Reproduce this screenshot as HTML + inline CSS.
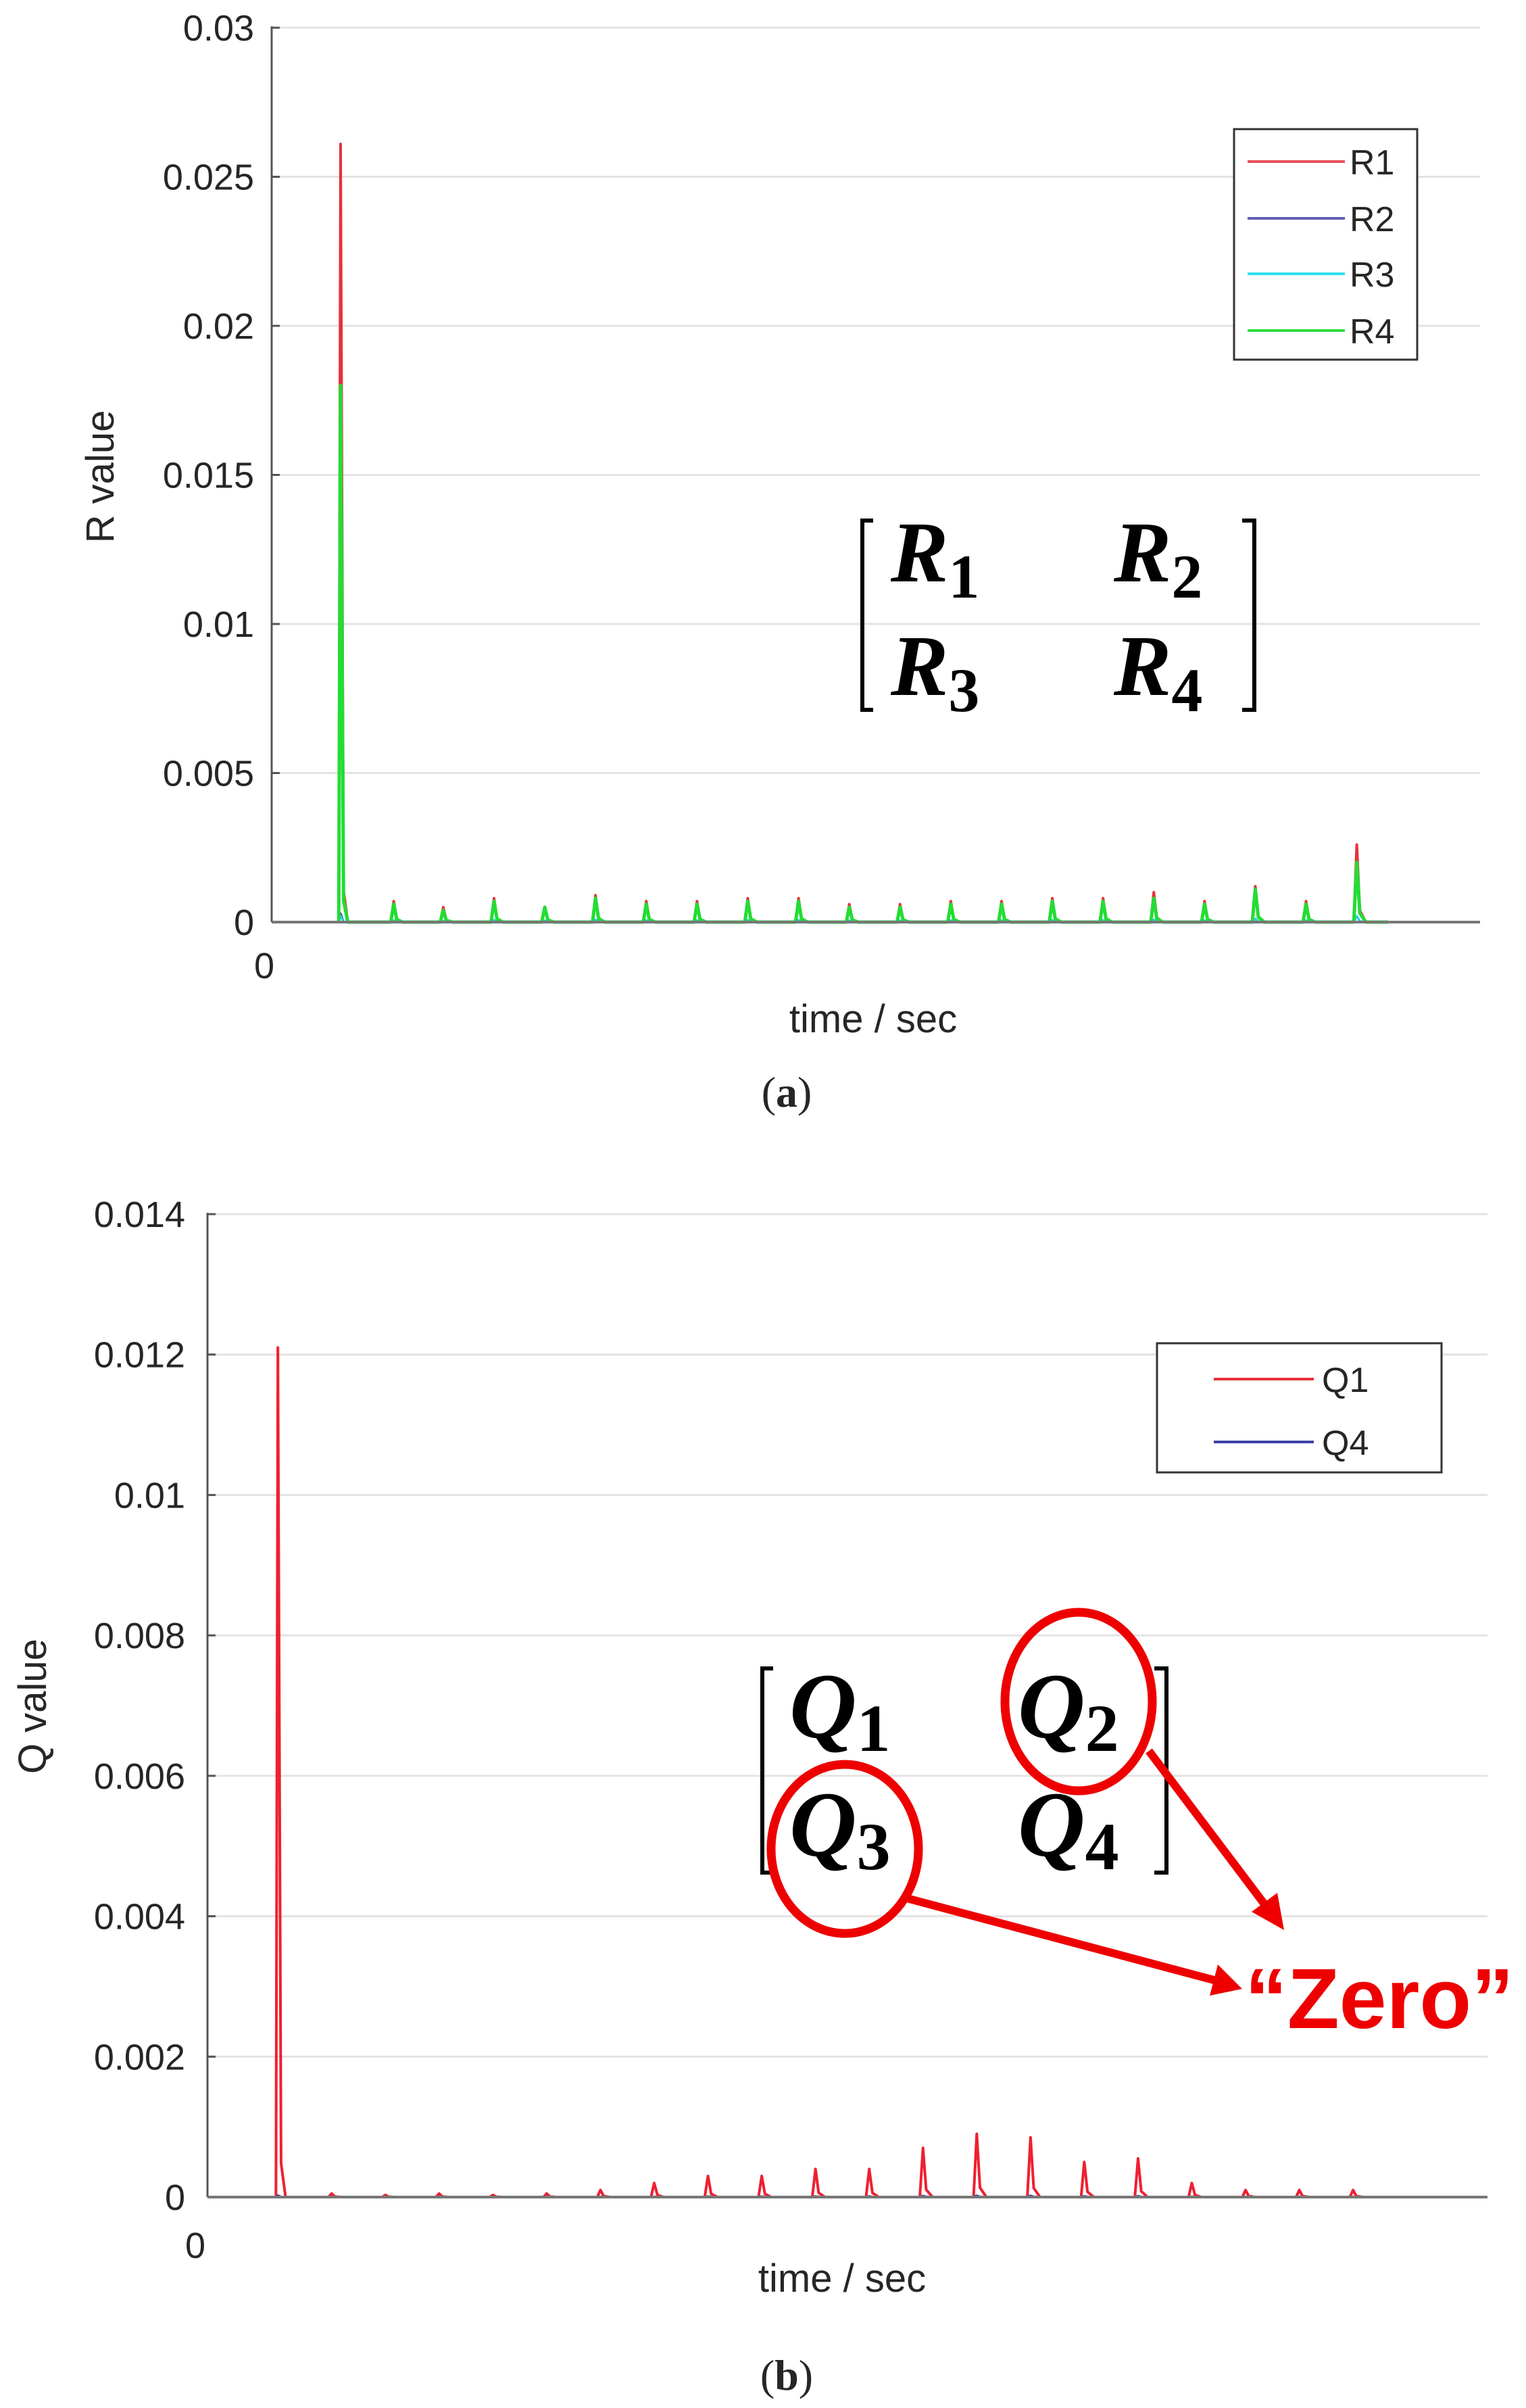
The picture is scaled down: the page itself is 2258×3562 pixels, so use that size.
<!DOCTYPE html>
<html><head><meta charset="utf-8"><style>
html,body{margin:0;padding:0;background:#fff}
svg{display:block}
text{font-family:"Liberation Sans",sans-serif;fill:#262626}
.tick{font-size:54px;text-anchor:end}
.math{font-family:"Liberation Serif",serif;font-weight:bold;fill:#000}
</style></head><body>
<svg id="fig" width="2258" height="3562" viewBox="0 0 2258 3562" xmlns="http://www.w3.org/2000/svg">
<g id="pa"></g>
<g id="pb"></g>
</svg>
<script>
// ---- Panel (a) data ----
const aYTicks = [0, 0.005, 0.01, 0.015, 0.02, 0.025, 0.03];
const aYTickLabels = ["0","0.005","0.01","0.015","0.02","0.025","0.03"];
const aPeakTime = 5.7;
const aEndTime = 92.4;
const aR1Peak = 0.0261;
const aR4Peak = 0.018;
const aR2Peak = 0.0003;
const aR3Peak = 0.0002;
const aSpikeTimes = [10.1,14.2,18.4,22.6,26.8,31.0,35.2,39.4,43.6,47.8,52.0,56.2,60.4,64.6,68.8,73.0,77.2,81.4,85.6,89.8];
const aR1Spikes = [0.0007,0.0005,0.0008,0.0005,0.0009,0.0007,0.0007,0.0008,0.0008,0.0006,0.0006,0.0007,0.0007,0.0008,0.0008,0.001,0.0007,0.0012,0.0007,0.0026];
const aR4Spikes = [0.0006,0.0004,0.0007,0.0005,0.0008,0.0006,0.0006,0.0007,0.0007,0.0005,0.0005,0.0006,0.0006,0.0007,0.0007,0.0008,0.0006,0.0011,0.0006,0.002];
// ---- Panel (b) data ----
const bYTicks = [0,0.002,0.004,0.006,0.008,0.01,0.012,0.014];
const bYTickLabels = ["0","0.002","0.004","0.006","0.008","0.01","0.012","0.014"];
const bPeakTime = 5.5;
const bEndTime = 92.2;
const bQ1Peak = 0.0121;
const bQ4Peak = 0.00002;
const bSpikeTimes = [9.7,13.9,18.1,22.3,26.5,30.7,34.9,39.1,43.3,47.5,51.7,55.9,60.1,64.3,68.5,72.7,76.9,81.1,85.3,89.5];
const bQ1Spikes = [0.00005,0.00003,0.00005,0.00003,0.00005,0.0001,0.0002,0.0003,0.0003,0.0004,0.0004,0.0007,0.0009,0.00085,0.0005,0.00055,0.0002,0.0001,0.0001,0.0001];

const NS="http://www.w3.org/2000/svg";
function mk(parent, tag, attrs, txt){const e=document.createElementNS(NS,tag);for(const k in attrs)e.setAttribute(k,attrs[k]);if(txt!==undefined)e.textContent=txt;parent.appendChild(e);return e;}

function seriesPath(xs, ys, peakT, peakV, spT, spV, endT, w){
  let d = "M"+xs(peakT-0.15)+","+ys(0);
  d += " L"+xs(peakT)+","+ys(peakV)+" L"+xs(peakT+0.25)+","+ys(peakV*0.04)+" L"+xs(peakT+0.6)+","+ys(0);
  for(let i=0;i<spT.length;i++){
    d += " L"+xs(spT[i]-w)+","+ys(0)+" L"+xs(spT[i])+","+ys(spV[i])+" L"+xs(spT[i]+w)+","+ys(spV[i]*0.15)+" L"+xs(spT[i]+w*3)+","+ys(0);
  }
  d += " L"+xs(endT)+","+ys(0);
  return d;
}

function panel(g, cfg){
  const xs = t => cfg.x0 + t*(cfg.x1-cfg.x0)/100;
  const ys = v => cfg.y0 - v*(cfg.y0-cfg.yTop)/cfg.yMax;
  cfg.ticks.forEach((v,i)=>{
    const gl = mk(g,'line',{x1:cfg.x0,x2:cfg.x1,y1:ys(v),y2:ys(v),stroke:'#e3e3e3','stroke-width':3});
    
    
    const tk = mk(g,'line',{x1:cfg.x0,x2:cfg.x0+12,y1:ys(v),y2:ys(v),stroke:'#555','stroke-width':3});
    
    
    const tl = mk(g,'text',{x:cfg.tx,y:ys(v)+19,class:'tick'},cfg.labels[i]);
    
    
  });
  const ya = mk(g,'line',{x1:cfg.x0,x2:cfg.x0,y1:cfg.yTop-2,y2:cfg.y0,stroke:'#555','stroke-width':3});
  
  
  cfg.series.forEach(s=>{
    const p = mk(g,'path',{d:seriesPath(xs,ys,s.pt,s.pv,s.st,s.sv,s.et,0.25),fill:'none',stroke:s.c,'stroke-width':s.w,'stroke-linejoin':'round'});
    
    
  });
  const xa = mk(g,'line',{x1:cfg.x0,x2:cfg.x1,y1:cfg.y0,y2:cfg.y0,stroke:'#777','stroke-width':4});
  
  
  const z = mk(g,'text',{x:cfg.zx,y:cfg.zy,'font-size':54,'text-anchor':'middle'},'0');
  
  
  const xt = mk(g,'text',{x:cfg.xtx,y:cfg.xty,'font-size':58,'text-anchor':'middle'},'time / sec');
  
  
  const yt = mk(g,'text',{x:0,y:0,'font-size':58,'text-anchor':'middle',transform:`translate(${cfg.ytx},${cfg.yty}) rotate(-90)`},cfg.ytitle);
  
  
  const L = cfg.legend;
  const lb = mk(g,'rect',{x:L.x,y:L.y,width:L.w,height:L.h,fill:'#fff',stroke:'#333','stroke-width':3});
  
  
  L.items.forEach((it,i)=>{
    const yy = L.ey[i];
    const ll = mk(g,'line',{x1:L.lx1,x2:L.lx2,y1:yy,y2:yy,stroke:it.c,'stroke-width':4});
    
    
    const lt = mk(g,'text',{x:L.tx,y:yy+19,'font-size':52},it.t);
    
    
  });
  const cap = mk(g,'text',{x:1164,y:cfg.capy,'font-size':64,'text-anchor':'middle',style:'font-family:"Liberation Serif",serif'});
  
  
  cap.innerHTML = '(<tspan font-weight="bold">'+cfg.cap+'</tspan>)';
}

panel(document.getElementById('pa'),{
  x0:402,x1:2190,y0:1364,yTop:41,yMax:0.03,ticks:aYTicks,labels:aYTickLabels,tx:376,
  zx:391,zy:1447,xtx:1292,xty:1527,ytx:168,yty:705,ytitle:'R value',capy:1637,cap:'a',
  series:[
    {name:'series-r1',c:'#e8303a',w:4,pt:aPeakTime,pv:aR1Peak,st:aSpikeTimes,sv:aR1Spikes,et:aEndTime},
    {name:'series-r2',c:'#5050b0',w:3,pt:aPeakTime,pv:aR2Peak,st:aSpikeTimes,sv:aR4Spikes.map(v=>v*0.1),et:aEndTime},
    {name:'series-r3',c:'#20d0e0',w:3,pt:aPeakTime,pv:aR3Peak,st:aSpikeTimes,sv:aR4Spikes.map(v=>v*0.1),et:aEndTime},
    {name:'series-r4',c:'#22dd33',w:5,pt:aPeakTime,pv:aR4Peak,st:aSpikeTimes,sv:aR4Spikes,et:aEndTime}
  ],
  legend:{x:1826,y:191,w:271,h:341,lx1:1846,lx2:1990,tx:1997,ey:[239,323,405,489],
    items:[{t:'R1',c:'#e8505a'},{t:'R2',c:'#6060b8'},{t:'R3',c:'#30e0f0'},{t:'R4',c:'#30dd40'}]}
});

panel(document.getElementById('pb'),{
  x0:307,x1:2201,y0:3250,yTop:1796,yMax:0.014,ticks:bYTicks,labels:bYTickLabels,tx:274,
  zx:289,zy:3340,xtx:1246,xty:3390,ytx:68,yty:2524,ytitle:'Q value',capy:3535,cap:'b',
  series:[
    {name:'series-q1',c:'#ee2030',w:4,pt:bPeakTime,pv:bQ1Peak,st:bSpikeTimes,sv:bQ1Spikes,et:bEndTime},
    {name:'series-q4',c:'#4040a8',w:4,pt:bPeakTime,pv:bQ4Peak,st:bSpikeTimes,sv:bQ1Spikes.map(v=>v*0.02),et:bEndTime}
  ],
  legend:{x:1712,y:1987,w:421,h:191,lx1:1796,lx2:1944,tx:1956,ey:[2040,2133],
    items:[{t:'Q1',c:'#e8303a'},{t:'Q4',c:'#4040a8'}]}
});
</script>
<svg style="position:absolute;left:0;top:0" width="2258" height="3562">
  <g>
    <path d="M1292,770 L1276,770 L1276,1050 L1292,1050" fill="none" stroke="#000" stroke-width="6"/>
    <path d="M1838,770 L1856,770 L1856,1050 L1838,1050" fill="none" stroke="#000" stroke-width="6"/>
    <text class="math" x="1318" y="860" font-size="128"><tspan font-style="italic">R</tspan><tspan font-size="92" dy="24">1</tspan></text>
    <text class="math" x="1648" y="860" font-size="128"><tspan font-style="italic">R</tspan><tspan font-size="92" dy="24">2</tspan></text>
    <text class="math" x="1318" y="1028" font-size="128"><tspan font-style="italic">R</tspan><tspan font-size="92" dy="24">3</tspan></text>
    <text class="math" x="1648" y="1028" font-size="128"><tspan font-style="italic">R</tspan><tspan font-size="92" dy="24">4</tspan></text>
  </g>
  <g>
    <path d="M1144,2468 L1128,2468 L1128,2770 L1144,2770" fill="none" stroke="#000" stroke-width="6"/>
    <path d="M1708,2468 L1726,2468 L1726,2770 L1708,2770" fill="none" stroke="#000" stroke-width="6"/>
    <text class="math" x="1168" y="2570" font-size="138"><tspan font-style="italic">Q</tspan><tspan font-size="100" dy="20">1</tspan></text>
    <text class="math" x="1506" y="2570" font-size="138"><tspan font-style="italic">Q</tspan><tspan font-size="100" dy="20">2</tspan></text>
    <text class="math" x="1168" y="2745" font-size="138"><tspan font-style="italic">Q</tspan><tspan font-size="100" dy="20">3</tspan></text>
    <text class="math" x="1506" y="2745" font-size="138"><tspan font-style="italic">Q</tspan><tspan font-size="100" dy="20">4</tspan></text>
  </g>
  <ellipse cx="1596" cy="2517" rx="109" ry="132" fill="none" stroke="#ee0000" stroke-width="13"/>
  <ellipse cx="1250" cy="2735" rx="109" ry="125" fill="none" stroke="#ee0000" stroke-width="13"/>
  <line x1="1700" y1="2590" x2="1875" y2="2822" stroke="#ee0000" stroke-width="12"/>
  <polygon points="1900,2855 1852,2828 1890,2800" fill="#ee0000"/>
  <line x1="1342" y1="2808" x2="1800" y2="2930" stroke="#ee0000" stroke-width="12"/>
  <polygon points="1838,2942 1790,2952 1802,2906" fill="#ee0000"/>
  <text x="1842" y="3000" font-size="126" font-weight="bold" textLength="398" lengthAdjust="spacingAndGlyphs" style="font-family:'Liberation Sans',sans-serif;fill:#ee0000">“Zero”</text>
</svg>
</body></html>
